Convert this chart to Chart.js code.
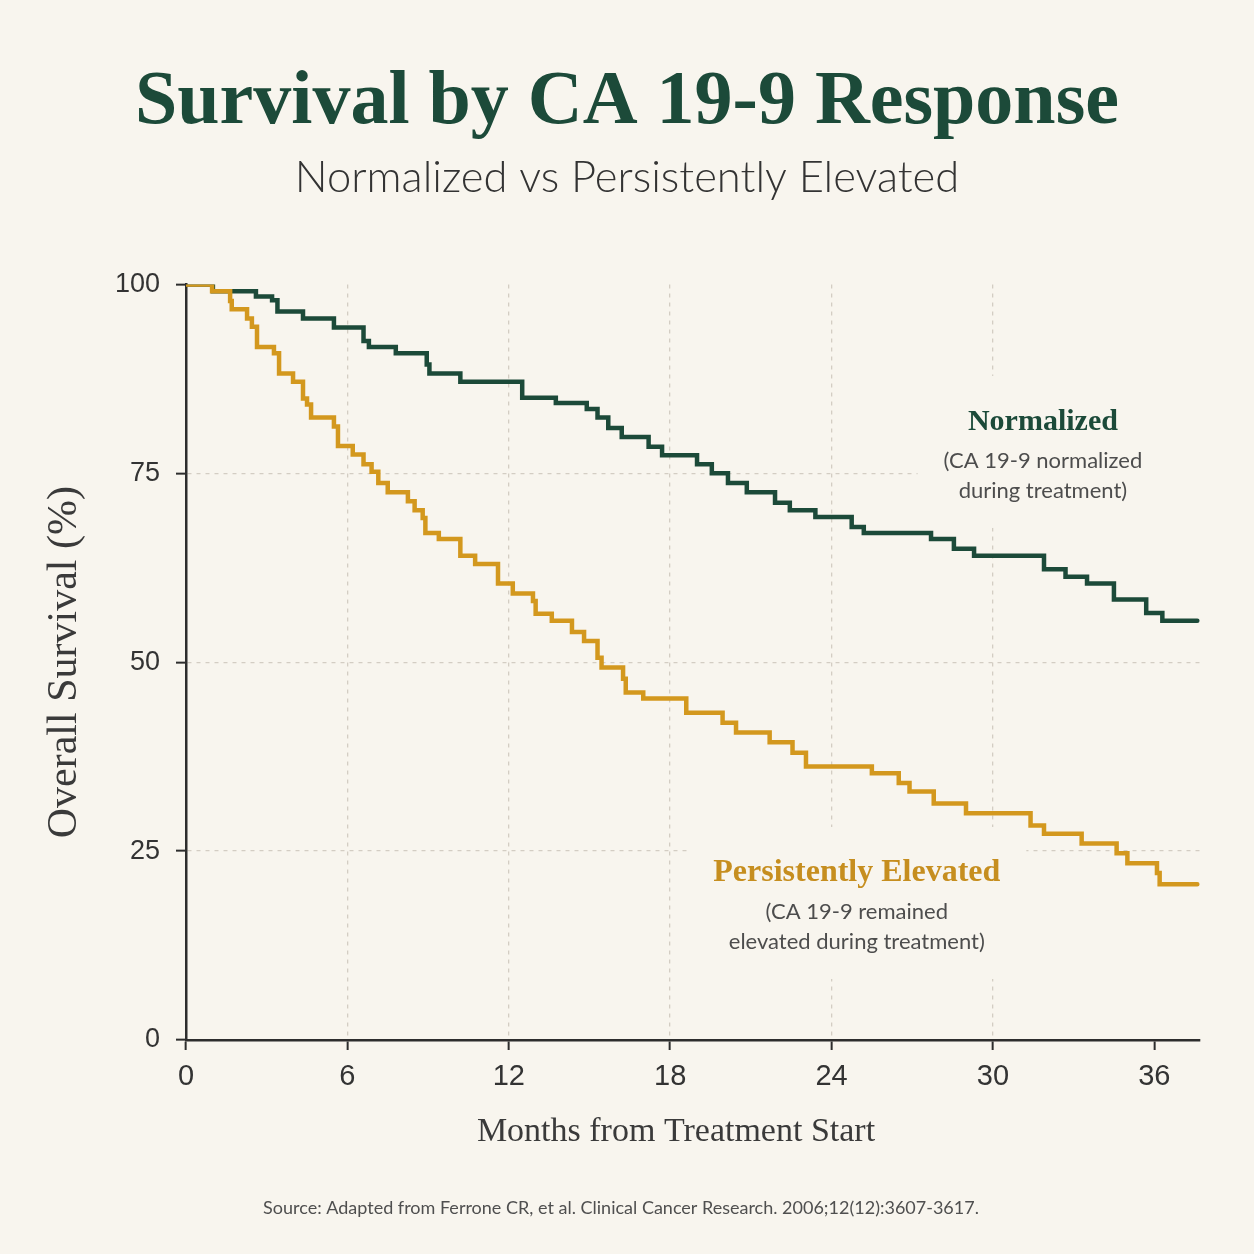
<!DOCTYPE html>
<html>
<head>
<meta charset="utf-8">
<script src="https://cdn.jsdelivr.net/npm/chart.js@4.4.1/dist/chart.umd.min.js"></script>
<style>
  html, body { margin: 0; padding: 0; background: #f8f5ee; }
  #wrap { width: 1254px; height: 1254px; }
</style>
</head>
<body>
<div id="wrap"><canvas id="c" width="1254" height="1254"></canvas></div>
<script>
// ---- Data ----
const normalizedMonths = [0, 1.0, 2.6, 3.2, 3.4, 4.35, 5.5, 6.6, 6.8, 7.8, 8.95, 9.05, 10.2, 12.5, 13.75, 14.9, 15.3, 15.7, 16.2, 17.2, 17.7, 19.0, 19.55, 20.15, 20.85, 21.9, 22.45, 23.4, 24.75, 25.2, 27.7, 28.55, 29.3, 31.9, 32.7, 33.5, 34.5, 35.7, 36.3, 37.6];
const normalizedSurvival = [100, 99.1, 98.4, 97.9, 96.4, 95.5, 94.3, 92.5, 91.7, 90.9, 89.4, 88.2, 87.1, 85.0, 84.3, 83.5, 82.4, 81.0, 79.8, 78.5, 77.4, 76.2, 75.0, 73.7, 72.5, 71.1, 70.1, 69.2, 67.9, 67.1, 66.3, 65.0, 64.1, 62.3, 61.3, 60.4, 58.3, 56.5, 55.5, 55.5];

const elevatedMonths = [0, 0.97, 1.64, 1.7, 2.27, 2.45, 2.64, 3.27, 3.46, 3.98, 4.35, 4.5, 4.65, 5.5, 5.65, 6.2, 6.6, 6.9, 7.15, 7.5, 8.25, 8.5, 8.8, 8.9, 9.4, 10.2, 10.75, 11.6, 12.15, 12.9, 13.0, 13.6, 14.35, 14.8, 15.3, 15.45, 16.25, 16.35, 17.0, 18.6, 19.95, 20.45, 21.7, 22.55, 23.05, 25.5, 26.5, 26.9, 27.8, 29.0, 31.4, 31.9, 33.3, 34.6, 35.0, 36.1, 36.2, 37.6];
const elevatedSurvival = [100, 99.1, 97.8, 96.7, 95.5, 94.4, 91.7, 90.9, 88.2, 87.1, 84.9, 84.1, 82.4, 81.2, 78.6, 77.5, 76.2, 75.2, 73.7, 72.5, 71.3, 70.1, 69.1, 67.1, 66.3, 64.1, 63.0, 60.4, 59.1, 58.1, 56.4, 55.5, 54.0, 52.8, 50.6, 49.3, 47.8, 46.0, 45.2, 43.3, 42.0, 40.7, 39.4, 38.0, 36.2, 35.3, 34.0, 32.9, 31.3, 30.0, 28.4, 27.3, 26.0, 24.7, 23.4, 22.1, 20.6, 20.6];

const seriesNames = ['Normalized', 'Persistently Elevated'];
const seriesNotes = [
  ['(CA 19-9 normalized', 'during treatment)'],
  ['(CA 19-9 remained', 'elevated during treatment)']
];
const labelAnchorMonths = [31.86, 24.94];
const labelAnchorSurvival = [81.8, 22.1];

const xTickStep = 6;
const yTickStep = 25;
const xMax = 37.7;

const titleText = 'Survival by CA 19-9 Response';
const subtitleText = 'Normalized vs Persistently Elevated';
const xTitle = 'Months from Treatment Start';
const yTitle = 'Overall Survival (%)';
const sourceText = 'Source: Adapted from Ferrone CR, et al. Clinical Cancer Research. 2006;12(12):3607-3617.';

// ---- Styles ----
const GREEN = '#1c4a39';
const GOLD = '#d3981e';
const GOLD_TEXT = '#c68e1f';
const BG = '#f8f5ee';
const AXIS = '#2d2d2d';
const GRID = '#d3cdc3';
const SERIF = '"Liberation Serif", "DejaVu Serif", serif';
const SANS = 'Lato, "Open Sans", "Liberation Sans", sans-serif';

const toPts = (xs, ys) => xs.map((x, i) => ({ x: x, y: ys[i] }));

const labelPlugin = {
  id: 'curveLabels',
  _layout(chart) {
    const xs = chart.scales.x, ys = chart.scales.y;
    const ctx = chart.ctx;
    const out = [];
    for (let i = 0; i < seriesNames.length; i++) {
      const cx = xs.getPixelForValue(labelAnchorMonths[i]);
      const cy = ys.getPixelForValue(labelAnchorSurvival[i]);
      const titleSize = i === 0 ? 30 : 32;
      ctx.save();
      ctx.font = 'bold ' + titleSize + 'px ' + SERIF;
      let w = ctx.measureText(seriesNames[i]).width;
      ctx.font = '22px ' + SANS;
      seriesNotes[i].forEach(t => { w = Math.max(w, ctx.measureText(t).width); });
      ctx.restore();
      out.push({ cx, cy, titleSize, w, i });
    }
    return out;
  },
  beforeDatasetsDraw(chart) {
    const ctx = chart.ctx;
    const pad = 26;
    const area = chart.chartArea;
    this._layout(chart).forEach(L => {
      let x0 = L.cx - L.w / 2 - pad;
      let x1 = L.cx + L.w / 2 + pad;
      if (area.right - x1 < 45) x1 = area.right;
      ctx.save();
      ctx.fillStyle = BG;
      ctx.fillRect(x0, L.cy - 20 - pad, x1 - x0, 100 + pad * 2);
      ctx.restore();
    });
  },
  afterDatasetsDraw(chart) {
    const ctx = chart.ctx;
    this._layout(chart).forEach(L => {
      ctx.save();
      ctx.textAlign = 'center';
      ctx.textBaseline = 'middle';
      ctx.fillStyle = L.i === 0 ? GREEN : GOLD_TEXT;
      ctx.font = 'bold ' + L.titleSize + 'px ' + SERIF;
      ctx.fillText(seriesNames[L.i], L.cx, L.cy);
      ctx.fillStyle = '#4d4d4d';
      ctx.font = '22px ' + SANS;
      seriesNotes[L.i].forEach((t, k) => {
        ctx.fillText(t, L.cx, L.cy + 39 + k * 30);
      });
      ctx.restore();
    });
  },
  afterDraw(chart) {
    const ctx = chart.ctx;
    ctx.save();
    ctx.textAlign = 'center';
    ctx.textBaseline = 'middle';
    ctx.fillStyle = '#4f4f4f';
    ctx.font = '18px ' + SANS;
    ctx.fillText(sourceText, 621, 1208);
    ctx.restore();
  }
};

const innerTick = (v, lo, hi) => v > lo + 1e-6 && v < hi - 1e-6;

new Chart(document.getElementById('c'), {
  type: 'line',
  data: {
    datasets: [
      {
        label: seriesNames[0],
        data: toPts(normalizedMonths, normalizedSurvival),
        borderColor: GREEN,
        borderWidth: 4.5,
        stepped: 'before',
        pointRadius: 0,
        fill: false,
        borderCapStyle: 'round',
        borderJoinStyle: 'miter',
        order: 1
      },
      {
        label: seriesNames[1],
        data: toPts(elevatedMonths, elevatedSurvival),
        borderColor: GOLD,
        borderWidth: 4.5,
        stepped: 'before',
        pointRadius: 0,
        fill: false,
        borderCapStyle: 'round',
        borderJoinStyle: 'miter',
        order: 0
      }
    ]
  },
  options: {
    responsive: false,
    animation: false,
    devicePixelRatio: 1,
    layout: { padding: { top: 0, left: 40, right: 40, bottom: 94 } },
    plugins: {
      legend: { display: false },
      tooltip: { enabled: false },
      title: {
        display: true,
        text: titleText,
        color: GREEN,
        font: { family: SERIF, size: 76, weight: 'bold' },
        padding: { top: 58, bottom: 0 }
      },
      subtitle: {
        display: true,
        text: subtitleText,
        color: '#333333',
        font: { family: SANS, size: 43.5, weight: '300' },
        padding: { top: 3, bottom: 80 }
      }
    },
    scales: {
      x: {
        type: 'linear',
        min: 0,
        max: xMax,
        afterFit(scale) { scale.height = 120; },
        ticks: {
          stepSize: xTickStep,
          includeBounds: false,
          color: '#333',
          padding: 10,
          font: { family: '"Liberation Sans Narrow", "Liberation Sans", sans-serif', size: 29 }
        },
        grid: {
          color: c => innerTick(c.tick.value, 0, 36) ? GRID : 'rgba(0,0,0,0)',
          lineWidth: 1.3,
          tickColor: AXIS,
          tickLength: 10,
          tickWidth: 2,
          tickBorderDash: []
        },
        border: { display: true, color: AXIS, width: 2.5, dash: [4, 5] },
        title: {
          display: true,
          text: xTitle + '\u00A0\u00A0\u00A0\u00A0',
          color: '#3a3a3a',
          font: { family: SERIF, size: 34 },
          padding: { top: 0, bottom: 8 }
        }
      },
      y: {
        min: 0,
        max: 100,
        afterFit(scale) { scale.width = 146; },
        ticks: {
          stepSize: yTickStep,
          color: '#333',
          padding: 16,
          font: { family: '"Liberation Sans", sans-serif', size: 27 }
        },
        grid: {
          color: c => innerTick(c.tick.value, 0, 100) ? GRID : 'rgba(0,0,0,0)',
          lineWidth: 1.3,
          tickColor: AXIS,
          tickLength: 10,
          tickWidth: 2,
          tickBorderDash: []
        },
        border: { display: true, color: AXIS, width: 2.5, dash: [4, 5] },
        title: {
          display: true,
          text: yTitle,
          color: '#3a3a3a',
          font: { family: SERIF, size: 42 },
          padding: { top: 0, bottom: 0 }
        }
      },
      yR: {
        type: 'linear',
        position: 'right',
        display: true,
        afterFit(scale) { scale.width = 14; },
        ticks: { display: false },
        grid: { display: false, drawOnChartArea: false },
        border: { display: false }
      }
    }
  },
  plugins: [labelPlugin]
});
</script>
</body>
</html>
